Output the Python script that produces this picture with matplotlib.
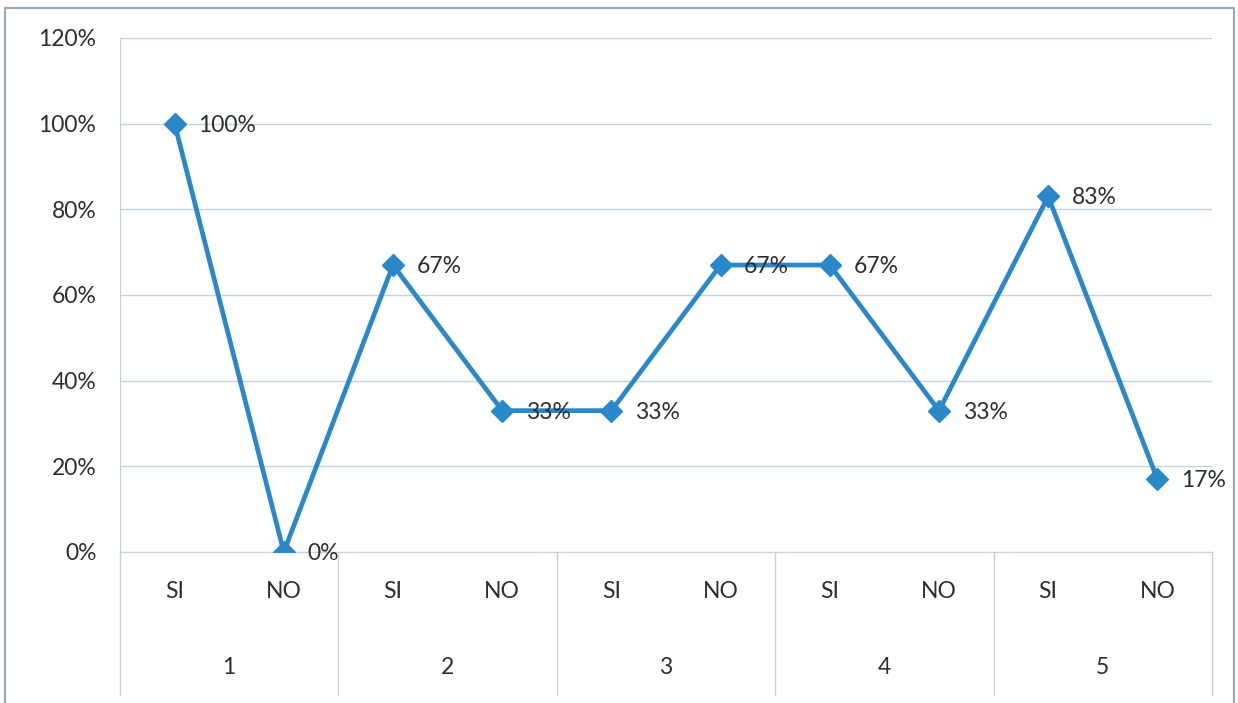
import matplotlib.pyplot as plt
from matplotlib.lines import Line2D
import matplotlib.transforms as mtransforms

groups = ['1', '2', '3', '4', '5']
answers = ['SI', 'NO']
values = [100, 0, 67, 33, 33, 67, 67, 33, 83, 17]
y_ticks = [0, 20, 40, 60, 80, 100, 120]

line_color = '#2A88CA'
grid_color = '#C5D3DD'
text_color = '#2E2E2E'

plt.rcParams['font.family'] = ['Lato', 'DejaVu Sans']
fs = 16.5

W, H = 1238, 703
fig = plt.figure(figsize=(W / 100, H / 100), dpi=100)
ax = fig.add_axes([120 / W, (H - 552) / H, (1212 - 120) / W, (552 - 38) / H])

n = len(values)
xs = [i + 0.5 for i in range(n)]
ax.plot(xs, values, color=line_color, lw=3.4, marker='D', markersize=11,
        solid_joinstyle='miter', zorder=3)

for x, v in zip(xs, values):
    ax.annotate(f'{v}%', (x, v), xytext=(17, -1), textcoords='offset points',
                ha='left', va='center', fontsize=fs, color=text_color, zorder=4)

ax.set_xlim(0, n)
ax.set_ylim(0, 120)
ax.set_yticks(y_ticks)
ax.set_yticklabels([f'{t}%' for t in y_ticks])
ax.yaxis.grid(True, color=grid_color, lw=1)
ax.set_axisbelow(True)

ax.set_xticks(xs)
ax.set_xticklabels([answers[i % 2] for i in range(n)])
ax.tick_params(axis='both', length=0, labelsize=fs, labelcolor=text_color)
ax.tick_params(axis='x', pad=21)
ax.tick_params(axis='y', pad=17)

for side in ['top', 'right']:
    ax.spines[side].set_visible(False)
ax.spines['left'].set_color(grid_color)
ax.spines['bottom'].set_color(grid_color)

# second level of the category axis: group numbers and separators
trans = mtransforms.blended_transform_factory(ax.transData, ax.transAxes)
bottom = -(695 - 552) / (552 - 38)
for g, name in enumerate(groups):
    ax.text(2 * g + 1, -(667 - 552) / (552 - 38), name, transform=trans,
            ha='center', va='center', fontsize=fs, color=text_color)
for k in range(len(groups) + 1):
    ax.add_line(Line2D([2 * k, 2 * k], [0, bottom], transform=trans,
                       color=grid_color, lw=1, clip_on=False))

# frame around the chart area
fig.add_artist(Line2D([5 / W, 5 / W, 1234 / W, 1234 / W], [0, 1 - 8 / H, 1 - 8 / H, 0],
                      color='#9AAAB8', lw=1.6))

fig.savefig('out.png', dpi=100)
